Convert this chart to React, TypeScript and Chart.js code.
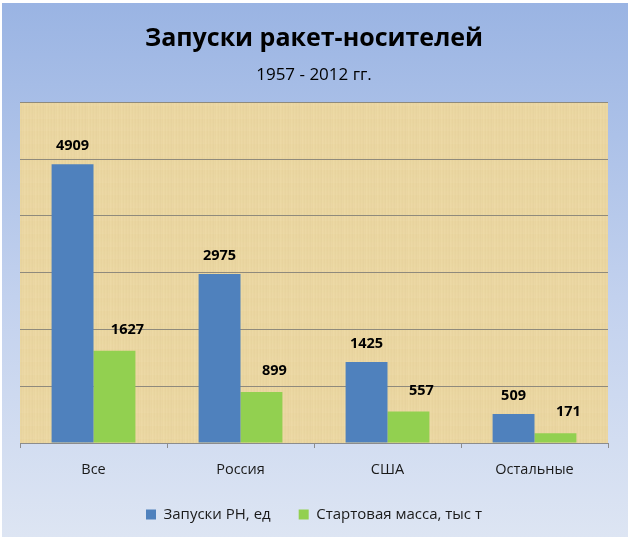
import { useEffect, useRef } from 'react';
import { Chart, registerables, Plugin } from 'chart.js';

Chart.register(...registerables);

const FONT = "'Open Sans', sans-serif";

const categories = ['Все', 'Россия', 'США', 'Остальные'];
const launches = [4909, 2975, 1425, 509];
const launchMass = [1627, 899, 557, 171];
const seriesNames = ['Запуски РН, ед', 'Стартовая масса, тыс т'];
const yTicks = { min: 0, max: 6000, step: 1000 };

// papyrus-like fill for the plot area
function makePapyrus(): CanvasPattern | string {
  const c = document.createElement('canvas');
  c.width = 64;
  c.height = 64;
  const g = c.getContext('2d');
  if (!g) return '#ebd7a2';
  g.fillStyle = '#ecd8a3';
  g.fillRect(0, 0, 64, 64);
  for (let i = 0; i < 64; i++) {
    const a = ((i * 37) % 11) / 110;
    g.fillStyle = `rgba(190,160,95,${a})`;
    g.fillRect(i, 0, 1, 64);
    const b = ((i * 53) % 13) / 160;
    g.fillStyle = `rgba(255,245,215,${b})`;
    g.fillRect(0, i, 64, 1);
  }
  return g.createPattern(c, 'repeat') ?? '#ebd7a2';
}

const plotBackground: Plugin<'bar'> = {
  id: 'plotBackground',
  beforeDraw(chart) {
    const { ctx, chartArea } = chart;
    ctx.save();
    ctx.fillStyle = makePapyrus();
    ctx.fillRect(chartArea.left, chartArea.top, chartArea.right - chartArea.left, chartArea.bottom - chartArea.top);
    ctx.restore();
  },
};

const valueLabels: Plugin<'bar'> = {
  id: 'valueLabels',
  afterDatasetsDraw(chart) {
    const { ctx } = chart;
    ctx.save();
    ctx.font = `bold 14.5px ${FONT}`;
    ctx.fillStyle = '#000';
    ctx.textAlign = 'center';
    ctx.textBaseline = 'middle';
    chart.data.datasets.forEach((ds, di) => {
      const meta = chart.getDatasetMeta(di);
      meta.data.forEach((bar, i) => {
        const dx = di === 1 ? 13 : 0;
        const dy = di === 1 ? 21 : 18;
        ctx.fillText(String(ds.data[i]), bar.x + dx, bar.y - dy);
      });
    });
    ctx.restore();
  },
};

export default function App() {
  const canvasRef = useRef<HTMLCanvasElement>(null);
  const chartRef = useRef<Chart | null>(null);

  useEffect(() => {
    document.body.style.margin = '0';
    if (!canvasRef.current) return;
    if (chartRef.current) chartRef.current.destroy();
    chartRef.current = new Chart(canvasRef.current, {
      type: 'bar',
      data: {
        labels: categories,
        datasets: [
          { label: seriesNames[0], data: launches, backgroundColor: '#4f81bd' },
          { label: seriesNames[1], data: launchMass, backgroundColor: '#92d050' },
        ],
      },
      options: {
        animation: false,
        responsive: true,
        maintainAspectRatio: false,
        layout: { padding: { left: 18, right: 20, top: 0, bottom: 5 } },
        datasets: { bar: { categoryPercentage: 0.57, barPercentage: 1 } },
        scales: {
          x: {
            grid: { display: true, drawOnChartArea: false, drawTicks: true, tickLength: 5, color: '#8c8c8c', offset: true },
            border: { display: true, color: '#8c8c8c' },
            ticks: { color: '#1a1a1a', font: { family: FONT, size: 14.5 }, padding: 13 },
            afterFit(scale) {
              scale.height = 36;
            },
          },
          y: {
            min: yTicks.min,
            max: yTicks.max,
            ticks: { display: false, stepSize: yTicks.step },
            grid: { color: '#8f8a7c', drawTicks: false },
            border: { display: false },
          },
        },
        plugins: {
          title: {
            display: true,
            text: 'Запуски ракет-носителей',
            color: '#000',
            font: { family: FONT, size: 25, weight: 'bold' },
            padding: { top: 21, bottom: 11 },
          },
          subtitle: {
            display: true,
            text: '1957 - 2012 гг.',
            color: '#000',
            font: { family: FONT, size: 17 },
            padding: { top: 0, bottom: 17 },
          },
          legend: {
            position: 'bottom',
            labels: {
              color: '#1a1a1a',
              font: { family: FONT, size: 15 },
              boxWidth: 10,
              boxHeight: 10,
              padding: 28,
            },
          },
          tooltip: { enabled: false },
        },
      },
      plugins: [plotBackground, valueLabels],
    });
    return () => {
      chartRef.current?.destroy();
      chartRef.current = null;
    };
  }, []);

  return (
    <div
      style={{
        width: 628,
        height: 537,
        boxSizing: 'border-box',
        borderTop: '3px solid #fff',
        borderLeft: '2px solid #fff',
        background: 'linear-gradient(to bottom, #9ab4e3 0%, #c2d1ee 55%, #dde5f3 100%)',
        position: 'relative',
      }}
    >
      <canvas ref={canvasRef} />
    </div>
  );
}
